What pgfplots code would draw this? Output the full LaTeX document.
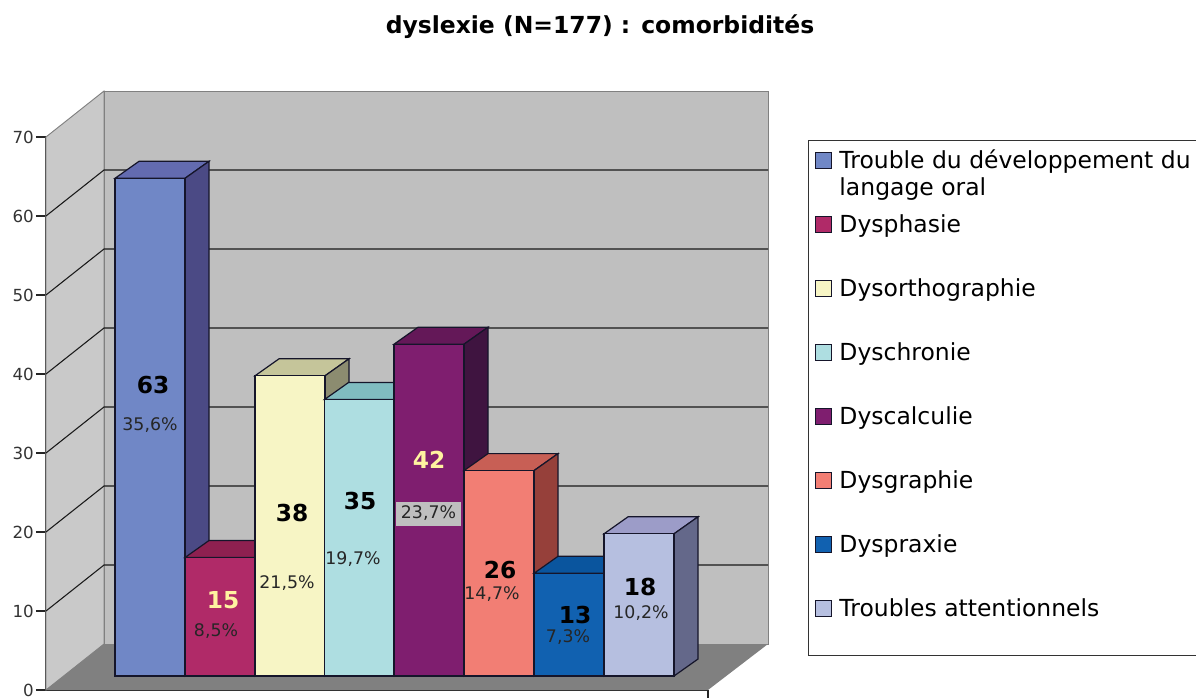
\documentclass[border=0pt]{standalone}
\usepackage{pgfplots}
\pgfplotsset{compat=1.18}
\usepackage{fontspec}
\setmainfont{DejaVu Sans}
\definecolor{fa}{HTML}{7087C6}\definecolor{sa}{HTML}{4B4A85}\definecolor{ta}{HTML}{636BB0}
\definecolor{fb}{HTML}{B02A68}\definecolor{sb}{HTML}{6A1A40}\definecolor{tb}{HTML}{8E2050}
\definecolor{fc}{HTML}{F7F5C5}\definecolor{sc}{HTML}{8C8C70}\definecolor{tc}{HTML}{C5C59A}
\definecolor{fd}{HTML}{AEDEE1}\definecolor{sd}{HTML}{5C8A8E}\definecolor{td}{HTML}{80BCC0}
\definecolor{fe}{HTML}{7F1E6F}\definecolor{se}{HTML}{3F1440}\definecolor{te}{HTML}{641858}
\definecolor{ff}{HTML}{F27E74}\definecolor{sf}{HTML}{96403A}\definecolor{tf}{HTML}{C85F55}
\definecolor{fg}{HTML}{1161B0}\definecolor{sg}{HTML}{0A3F75}\definecolor{tg}{HTML}{0A559E}
\definecolor{fh}{HTML}{B6BFE0}\definecolor{sh}{HTML}{64688A}\definecolor{th}{HTML}{9C9CC8}
\definecolor{ink}{HTML}{15152A}
\definecolor{cream}{HTML}{FFF3A0}
\newcommand\threedbar[6]{%
  \pgfmathsetmacro\xa{#1}\pgfmathsetmacro\xb{#1+70}\pgfmathsetmacro\xc{#1+94}\pgfmathsetmacro\xd{#1+24}
  \pgfmathsetmacro\ya{1.77}\pgfmathsetmacro\yb{#2+1.77}\pgfmathsetmacro\yc{#2+3.92}\pgfmathsetmacro\ye{3.92}
  \addplot[forget plot,fill=#5,draw=ink,line width=0.9pt] coordinates {(\xa,\yb) (\xb,\yb) (\xc,\yc) (\xd,\yc)} --cycle;
  \addplot[forget plot,fill=#4,draw=ink,line width=0.9pt] coordinates {(\xb,\ya) (\xc,\ye) (\xc,\yc) (\xb,\yb)} --cycle;
  \addplot[fill=#3,draw=ink,line width=0.9pt] coordinates {(\xa,\ya) (\xb,\ya) (\xb,\yb) (\xa,\yb)} --cycle;
  \addlegendentry{\hspace*{3pt}#6}
}
\newcommand\gridv[1]{%
  \pgfmathsetmacro\yl{#1+5.82}
  \addplot[forget plot,color=black!90,line width=0.8pt] coordinates {(0,#1) (58,\yl) (722,\yl)};
}
\newcommand\pxnode[4]{\node[#3] at (axis cs:{#1-46},{(690-#2)/7.9}) {#4};}
\begin{document}
\begin{tikzpicture}
\path[use as bounding box] (-34.5pt,-6pt) rectangle (862.5pt,517.5pt);
\begin{axis}[
  scale only axis, width=496.5pt, height=414.75pt,
  xmin=0, xmax=662, ymin=0, ymax=70, clip=false, enlargelimits=false,
  axis x line*=bottom, axis y line*=left, axis line style={-,line width=0.8pt,black!80},
  xtick=\empty, ytick={0,10,...,70},
  tick align=outside, tick style={black!85,line width=0.8pt}, major tick length=7.5pt,
  /pgf/number format/assume math mode=true,
  y tick label style={font=\fontsize{12.5}{13}\selectfont,text=black!80,inner sep=1.5pt},
  title={dyslexie (N=177) : comorbidités},
  title style={at={(axis cs:554,82.9)},anchor=center,font=\fontsize{17.6}{18}\selectfont\bfseries,inner sep=0pt},
  legend image code/.code={\draw[#1,line width=0.7pt] (0pt,4.1pt) rectangle (12pt,16.1pt);},
  legend cell align=left,
  legend style={at={(axis cs:762,69.6)},anchor=north west,draw=black!80,line width=0.8pt,
    font=\fontsize{17.6}{20.5}\selectfont,row sep=0pt,inner xsep=5pt,inner ysep=1pt,
    nodes={inner sep=0pt,inner xsep=2.5pt,text height=19.5pt,text depth=28.5pt}},
]
% walls and floor
\addplot[forget plot,fill=black!21,draw=black!50,line width=0.7pt] coordinates {(0,0) (58,5.82) (58,75.82) (0,70)} --cycle;
\addplot[forget plot,fill=black!25,draw=black!50,line width=0.7pt] coordinates {(58,5.82) (722,5.82) (722,75.82) (58,75.82)} --cycle;
\addplot[forget plot,fill=black!50,draw=none] coordinates {(0,0) (662,0) (722,5.82) (58,5.82)} --cycle;
\gridv{10}\gridv{20}\gridv{30}\gridv{40}\gridv{50}\gridv{60}
% bars
\threedbar{69}{63}{fa}{sa}{ta}{\parbox[t]{268pt}{Trouble du développement du\\langage oral}}
\threedbar{139}{15}{fb}{sb}{tb}{Dysphasie}
\threedbar{209}{38}{fc}{sc}{tc}{Dysorthographie}
\threedbar{278.5}{35}{fd}{sd}{td}{Dyschronie}
\threedbar{348}{42}{fe}{se}{te}{Dyscalculie}
\threedbar{418}{26}{ff}{sf}{tf}{Dysgraphie}
\threedbar{488}{13}{fg}{sg}{tg}{Dyspraxie}
\threedbar{558}{18}{fh}{sh}{th}{Troubles attentionnels}
\addplot[forget plot,black!85,line width=0.8pt] coordinates {(662,0) (662,-1.1)};
% labels
\def\big{\fontsize{17.5}{18}\selectfont\bfseries}
\def\small{\fontsize{13}{14}\selectfont}
\pxnode{153}{385}{}{\big 63}\pxnode{150}{425}{text=black!85}{\small 35,6\%}
\pxnode{223}{600}{text=cream}{\big 15}\pxnode{216}{631}{text=black!85}{\small 8,5\%}
\pxnode{292}{513}{}{\big 38}\pxnode{287}{583}{text=black!85}{\small 21,5\%}
\pxnode{360}{501}{}{\big 35}\pxnode{353}{559}{text=black!85}{\small 19,7\%}
\pxnode{429}{460}{text=cream}{\big 42}
\pxnode{428.5}{513.5}{fill=black!25,minimum width=49pt,minimum height=18pt,inner sep=0pt,text=black!85}{\small 23,7\%}
\pxnode{500}{570}{}{\big 26}\pxnode{492}{594}{text=black!85}{\small 14,7\%}
\pxnode{575}{615}{}{\big 13}\pxnode{568}{637}{text=black!85}{\small 7,3\%}
\pxnode{640}{587}{}{\big 18}\pxnode{641}{613}{text=black!85}{\small 10,2\%}
\end{axis}
\end{tikzpicture}
\end{document}
